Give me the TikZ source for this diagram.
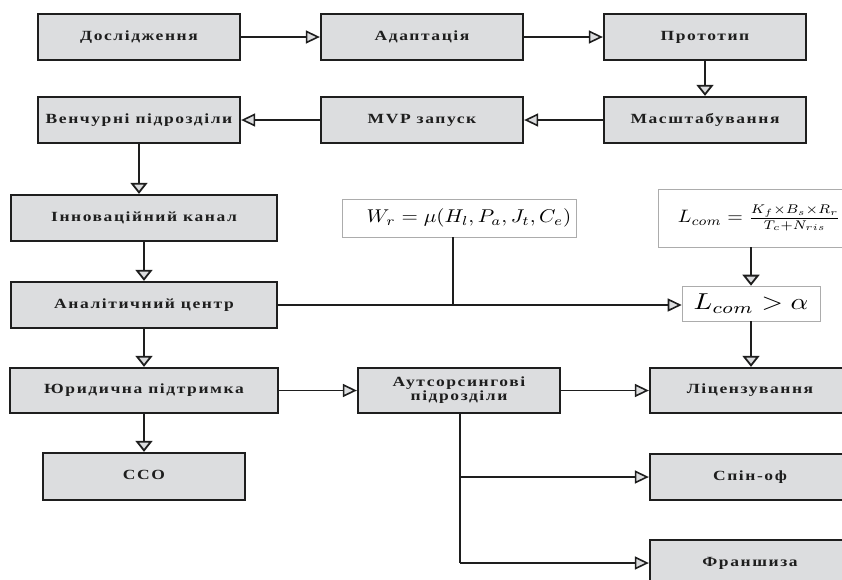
\documentclass[tikz,border=0pt]{standalone}
\usepackage{fontspec}
\setmainfont{Liberation Serif}
\newfontfamily\boxfont[LetterSpace=9]{Liberation Serif}
\usetikzlibrary{arrows.meta,calc}
\definecolor{boxgray}{RGB}{220,221,223}
\definecolor{inkc}{RGB}{30,30,30}
\newcommand\bxt[1]{\scalebox{1.25}[1]{\begin{tabular}{@{}c@{}}#1\end{tabular}}}
\newcommand\mxt[3]{\scalebox{#1}[#2]{#3}}
\tikzset{
  gbox/.style={draw=inkc, line width=2.3pt, fill=boxgray, minimum height=46pt, inner sep=0pt,
    font=\boxfont\bfseries\fontsize{14}{17}\selectfont, text=inkc, align=center},
  mbox/.style={draw=gray!65, line width=0.6pt, fill=white, inner sep=0pt},
  htip/.style={-{Triangle[open, fill=boxgray, length=14pt, width=13pt, line width=1.6pt]}},
  vtip/.style={-{Triangle[open, fill=boxgray, length=11pt, width=17pt, line width=1.8pt]}},
  hconn/.style={draw=inkc, line width=1.9pt, htip},
  vconn/.style={draw=inkc, line width=2.8pt, vtip},
  hline/.style={draw=inkc, line width=1.9pt},
  vline/.style={draw=inkc, line width=2.8pt},
}
\begin{document}
\begin{tikzpicture}[x=1pt,y=-1pt]
\useasboundingbox (0,0) rectangle (842,579);
\begin{scope}
\clip (0,0) rectangle (842,579);
% row 1
\node[gbox, minimum width=202pt] (d1) at (139,37) {\bxt{Дослідження}};
\node[gbox, minimum width=202pt] (d2) at (422,37) {\bxt{Адаптація}};
\node[gbox, minimum width=202pt] (d3) at (705,37) {\bxt{Прототип}};
% row 2
\node[gbox, minimum width=202pt] (v) at (139,120) {\bxt{Венчурні підрозділи}};
\node[gbox, minimum width=202pt] (mvp) at (422,120) {\bxt{MVP запуск}};
\node[gbox, minimum width=202pt] (ms) at (705,120) {\bxt{Масштабування}};
% left column
\node[gbox, minimum width=266pt] (inn) at (144,218) {\bxt{Інноваційний канал}};
\node[gbox, minimum width=266pt] (an) at (144,305) {\bxt{Аналітичний центр}};
\node[gbox, minimum width=268pt, minimum height=45pt] (jur) at (144,390.5) {\bxt{Юридична підтримка}};
\node[gbox, minimum width=202pt, minimum height=47pt] (cco) at (144,476.5) {\bxt{ССО}};
% middle
\node[gbox, minimum width=202pt, minimum height=45pt] (out) at (459,390.5) {\bxt{Аутсорсингові\\[-3pt]підрозділи}};
% right column
\node[gbox, minimum width=200pt, minimum height=45pt] (lic) at (750,390.5) {\bxt{Ліцензування}};
\node[gbox, minimum width=200pt] (sp) at (750,477) {\bxt{Спін-оф}};
\node[gbox, minimum width=200pt] (fr) at (750,563) {\bxt{Франшиза}};
% formula boxes
\node[mbox, minimum width=234pt, minimum height=38pt] (wr) at (459,218) {\hspace*{20pt}\mxt{2.1}{1.85}{$W_r=\mu(H_l,P_a,J_t,C_e)$}};
\node[mbox, minimum width=186pt, minimum height=58pt, anchor=west, align=left] (lf) at (658,218) {\hspace*{16pt}\mxt{2.0}{1.8}{$L_{com}=\frac{K_f\times B_s\times R_r}{T_c+N_{ris}}$}};
\node[mbox, minimum width=138pt, minimum height=35pt] (lc) at (751,303.5) {\mxt{2.75}{2.3}{$L_{com}>\alpha$}};
% connectors
\draw[hconn] (d1) -- (d2);
\draw[hconn] (d2) -- (d3);
\draw[vconn] (d3) -- (ms);
\draw[hconn] (ms) -- (mvp);
\draw[hconn] (mvp) -- (v);
\draw[vconn] (v.south) -- (v.south |- inn.north);
\draw[vconn] (inn) -- (an);
\draw[vconn] (an) -- (jur);
\draw[vconn] (jur) -- (cco);
\draw[hconn] (jur) -- (out);
\draw[hconn] (out) -- (lic);
\coordinate (j) at (453,305);
\draw[hconn] (an.east |- j) -- (j -| lc.west);
\draw[vline] (wr.south -| j) -- (j);
\draw[vconn] (lf.south -| lc) -- (lc.north);
\draw[vconn] (lc.south) -- (lc.south |- lic.north);
\coordinate (b1) at (460,477);
\coordinate (b2) at (460,563);
\draw[vline] (out.south -| b1) -- (b2);
\draw[hconn] (b1) -- (b1 -| sp.west);
\draw[hconn] (b2) -- (b2 -| fr.west);
\end{scope}
\end{tikzpicture}
\end{document}
